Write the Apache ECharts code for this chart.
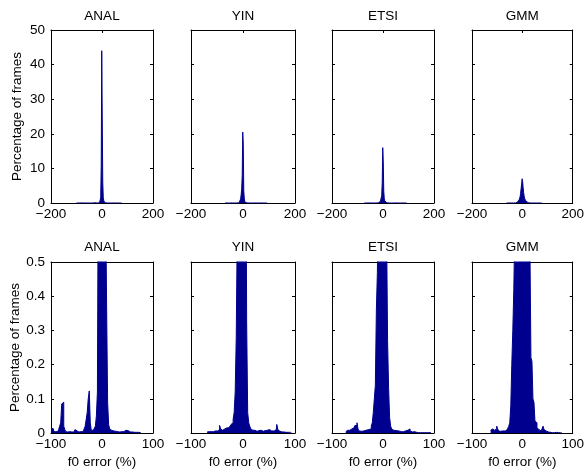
<!DOCTYPE html>
<html><head><meta charset="utf-8">
<script src="https://cdn.jsdelivr.net/npm/echarts@6/dist/echarts.min.js"></script>
<style>html,body{margin:0;padding:0;background:#fff}#c{width:587px;height:470px}</style>
</head><body><div id="c"></div>
<script>
const methods = ['ANAL', 'YIN', 'ETSI', 'GMM'];
const binCenters = [
  -100,-98,-96,-94,-92,-90,-88,-86,-84,-82,
  -80,-78,-76,-74,-72,-70,-68,-66,-64,-62,
  -60,-58,-56,-54,-52,-50,-48,-46,-44,-42,
  -40,-38,-36,-34,-32,-30,-28,-26,-24,-22,
  -20,-18,-16,-14,-12,-10,-8,-6,-4,-2,
  0,2,4,6,8,10,12,14,16,18,
  20,22,24,26,28,30,32,34,36,38,
  40,42,44,46,48,50,52,54,56,58,
  60,62,64,66,68,70,72,74,76,78,
  80,82,84,86,88,90,92,94,96,98,
  100
];
const anal = [
  0.015,0.015,0.012,0.005,0.004,0.006,0.004,0.005,0.01,0.02,
  0.03,0.085,0.09,0.02,0.01,0.004,0.003,0.003,0.004,0.003,
  0.003,0.004,0.003,0.005,0.01,0.006,0.003,0.003,0.004,0.006,
  0.004,0.004,0.008,0.012,0.02,0.04,0.06,0.1,0.123,0.03,
  0.008,0.006,0.008,0.01,0.02,0.05,0.12,0.9,1.8,11,
  44,24,6,1.5,0.7,0.38,0.09,0.025,0.012,0.008,
  0.007,0.006,0.005,0.005,0.004,0.004,0.004,0.003,0.003,0.004,
  0.005,0.004,0.004,0.006,0.008,0.007,0.005,0.004,0.003,0.003,
  0.003,0.003,0.002,0.002,0.002,0.002,0.002,0.002,0.001,0,
  0,0,0,0,0,0,0,0,0,0,
  0
];
const yin = [
  0,0,0,0,0,0,0,0,0,0,
  0,0,0,0,0,0,0.003,0.004,0.003,0.004,
  0.005,0.004,0.005,0.006,0.005,0.006,0.008,0.01,0.022,0.012,
  0.008,0.01,0.012,0.01,0.015,0.018,0.015,0.02,0.018,0.025,
  0.03,0.04,0.06,0.12,0.28,0.6,1.2,2.5,4,8,
  20.5,17,3.5,1.2,0.33,0.06,0.03,0.02,0.012,0.01,
  0.008,0.006,0.008,0.005,0.006,0.007,0.005,0.006,0.008,0.005,
  0.006,0.007,0.005,0.008,0.006,0.01,0.008,0.006,0.007,0.005,
  0.006,0.008,0.01,0.025,0.01,0.005,0.004,0.003,0.004,0.003,
  0.003,0.002,0.003,0.002,0.002,0.002,0.001,0,0,0,
  0
];
const etsi = [
  0,0,0,0,0,0,0,0,0,0,
  0,0,0,0,0.004,0.008,0.005,0.003,0.008,0.01,
  0.012,0.015,0.018,0.022,0.022,0.03,0.012,0.006,0.004,0.005,
  0.008,0.006,0.005,0.008,0.01,0.009,0.01,0.008,0.012,0.02,
  0.03,0.06,0.1,0.14,0.36,0.47,0.8,1.5,2.2,6,
  16,12,3.5,1.2,0.6,0.27,0.13,0.045,0.02,0.012,
  0.01,0.008,0.006,0.007,0.005,0.006,0.004,0.005,0.004,0.005,
  0.004,0.005,0.006,0.005,0.008,0.01,0.012,0.006,0.004,0.003,
  0.003,0.004,0.003,0.002,0.001,0.001,0.001,0.001,0.001,0.001,
  0.001,0.001,0.001,0.001,0.001,0.001,0.001,0.001,0,0,
  0
];
const gmm = [
  0,0,0,0,0,0,0,0,0,0,
  0,0,0,0,0,0,0,0,0,0.008,
  0.01,0.012,0.008,0.01,0.012,0.02,0.012,0.006,0.008,0.005,
  0.006,0.004,0.005,0.006,0.008,0.01,0.015,0.02,0.03,0.08,
  0.2,0.3,0.42,0.6,0.9,1.2,1.8,2.8,4.2,5.5,
  7,6.2,4.5,3,2,1.3,0.9,0.65,0.55,0.22,
  0.21,0.1,0.09,0.035,0.03,0.015,0.01,0.008,0.006,0.008,
  0.012,0.02,0.01,0.006,0.004,0.003,0.003,0.002,0.002,0.002,
  0.001,0.002,0.001,0.001,0.002,0.001,0.001,0.001,0.001,0.001,
  0,0,0,0,0,0,0,0,0,0,
  0
];
const seriesValues = [anal, yin, etsi, gmm];
const yAxisTitle = 'Percentage of frames';
const xAxisTitle = 'f0 error (%)';

const FONT = '"Liberation Sans", Arial, Helvetica, sans-serif';
const BLUE = '#00008f';
const colLeft = [51, 191, 332, 472];
const colWidth = [102, 104, 102, 104];
const rows = [
  {top: 30, height: 173, xMin: -200, xMax: 200, xInt: 200, yMax: 50, yInt: 10, titleGap: 7, xName: ''},
  {top: 262, height: 171, xMin: -100, xMax: 100, xInt: 100, yMax: 0.5, yInt: 0.1, titleGap: 8, xName: xAxisTitle}
];
const txt = {color: '#000', fontSize: 13.5, fontFamily: FONT};
const axLine = {show: true, onZero: false, lineStyle: {color: '#000', width: 1}};
const axTick = {show: true, inside: true, length: 3, lineStyle: {color: '#000', width: 1}};
const fmt = v => String(v).replace('-', '\u2212');

const grid = [], xAxis = [], yAxis = [], series = [];
rows.forEach((r, ri) => {
  methods.forEach((m, ci) => {
    const gi = ri * 4 + ci;
    grid.push({left: colLeft[ci], top: r.top, width: colWidth[ci], height: r.height, show: false});
    xAxis.push({gridIndex: gi, type: 'value', min: r.xMin, max: r.xMax, interval: r.xInt, position: 'bottom',
      axisLine: axLine, axisTick: axTick, splitLine: {show: false},
      axisLabel: Object.assign({show: true, margin: 4, formatter: fmt, showMinLabel: true, showMaxLabel: true, hideOverlap: false}, txt),
      name: r.xName, nameLocation: 'middle', nameGap: 22, nameTextStyle: txt});
    xAxis.push({gridIndex: gi, type: 'value', min: r.xMin, max: r.xMax, interval: r.xInt, position: 'top',
      axisLine: axLine, axisTick: axTick, splitLine: {show: false}, axisLabel: {show: false},
      name: m, nameLocation: 'middle', nameGap: r.titleGap, nameTextStyle: txt});
    yAxis.push({gridIndex: gi, type: 'value', min: 0, max: r.yMax, interval: r.yInt, position: 'left',
      axisLine: axLine, axisTick: axTick, splitLine: {show: false},
      axisLabel: Object.assign({show: ci === 0, margin: 6, showMinLabel: true, showMaxLabel: true}, txt),
      name: ci === 0 ? yAxisTitle : '', nameLocation: 'middle', nameGap: 27, nameTextStyle: txt});
    yAxis.push({gridIndex: gi, type: 'value', min: 0, max: r.yMax, interval: r.yInt, position: 'right',
      axisLine: axLine, axisTick: axTick, splitLine: {show: false}, axisLabel: {show: false}});
    const vals = seriesValues[ci];
    series.push({type: 'line', xAxisIndex: 2 * gi, yAxisIndex: 2 * gi, step: 'middle', symbol: 'none',
      clip: true, silent: true,
      data: binCenters.map((x, i) => [x, vals[i] === 0 ? null : vals[i]]),
      lineStyle: {color: BLUE, width: 1}, areaStyle: {color: BLUE, opacity: 1}});
  });
});

const chart = echarts.init(document.getElementById('c'), null, {renderer: 'canvas'});
chart.setOption({animation: false, textStyle: {fontFamily: FONT}, grid, xAxis, yAxis, series});
</script></body></html>
